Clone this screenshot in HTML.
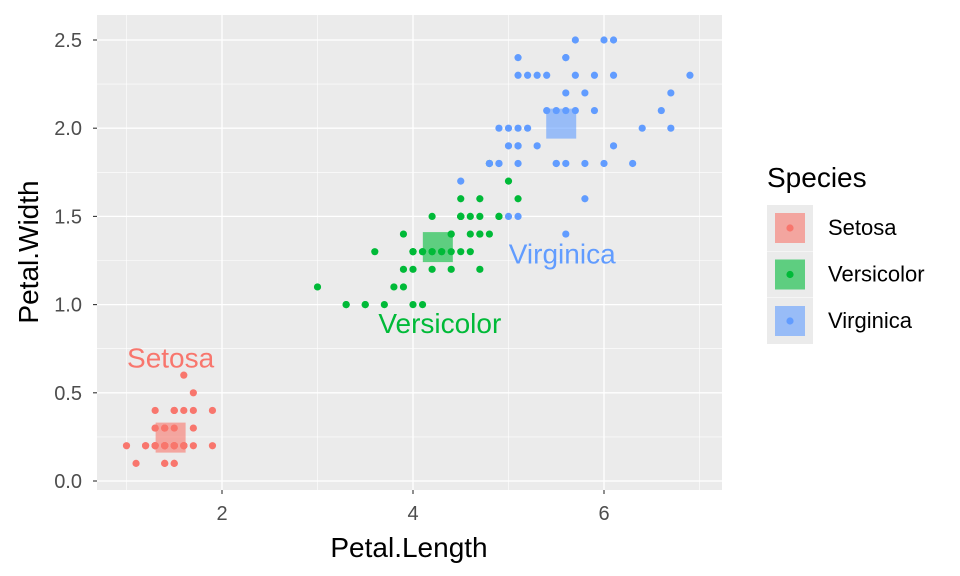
<!DOCTYPE html>
<html><head><meta charset="utf-8"><style>
body{margin:0;background:#fff;}
svg{display:block;font-family:"Liberation Sans",Arial,sans-serif;}
</style></head><body>
<svg id="chart" width="960" height="576" viewBox="0 0 960 576"></svg>
<script>
const species = ["Setosa","Versicolor","Virginica"];
const colors = ["#F8766D","#00BA38","#619CFF"];
const setosaLen = [1.4,1.4,1.3,1.5,1.4,1.7,1.4,1.5,1.4,1.5,1.5,1.6,1.4,1.1,1.2,1.5,1.3,1.4,1.7,1.5,1.7,1.5,1.0,1.7,1.9,1.6,1.6,1.5,1.4,1.6,1.6,1.5,1.5,1.4,1.5,1.2,1.3,1.4,1.3,1.5,1.3,1.3,1.3,1.6,1.9,1.4,1.6,1.4,1.5,1.4];
const setosaWid = [0.2,0.2,0.2,0.2,0.2,0.4,0.3,0.2,0.2,0.1,0.2,0.2,0.1,0.1,0.2,0.4,0.4,0.3,0.3,0.3,0.2,0.4,0.2,0.5,0.2,0.2,0.4,0.2,0.2,0.2,0.2,0.4,0.1,0.2,0.2,0.2,0.2,0.1,0.2,0.2,0.3,0.3,0.2,0.6,0.4,0.3,0.2,0.2,0.2,0.2];
const versiLen = [4.7,4.5,4.9,4.0,4.6,4.5,4.7,3.3,4.6,3.9,3.5,4.2,4.0,4.7,3.6,4.4,4.5,4.1,4.5,3.9,4.8,4.0,4.9,4.7,4.3,4.4,4.8,5.0,4.5,3.5,3.8,3.7,3.9,5.1,4.5,4.5,4.7,4.4,4.1,4.0,4.4,4.6,4.0,3.3,4.2,4.2,4.2,4.3,3.0,4.1];
const versiWid = [1.4,1.5,1.5,1.3,1.5,1.3,1.6,1.0,1.3,1.4,1.0,1.5,1.0,1.4,1.3,1.4,1.5,1.0,1.5,1.1,1.8,1.3,1.5,1.2,1.3,1.4,1.4,1.7,1.5,1.0,1.1,1.0,1.2,1.6,1.5,1.6,1.5,1.3,1.3,1.3,1.2,1.4,1.2,1.0,1.3,1.2,1.3,1.3,1.1,1.3];
const virgLen = [6.0,5.1,5.9,5.6,5.8,6.6,4.5,6.3,5.8,6.1,5.1,5.3,5.5,5.0,5.1,5.3,5.5,6.7,6.9,5.0,5.7,4.9,6.7,4.9,5.7,6.0,4.8,4.9,5.6,5.8,6.1,6.4,5.6,5.1,5.6,6.1,5.6,5.5,4.8,5.4,5.6,5.1,5.1,5.9,5.7,5.2,5.0,5.2,5.4,5.1];
const virgWid = [2.5,1.9,2.1,1.8,2.2,2.1,1.7,1.8,1.8,2.5,2.0,1.9,2.1,2.0,2.4,2.3,1.8,2.2,2.3,1.5,2.3,2.0,2.0,1.8,2.1,1.8,1.8,1.8,2.1,1.6,1.9,2.0,2.2,1.5,1.4,2.3,2.4,1.8,1.8,2.1,2.4,2.3,1.9,2.3,2.5,2.3,1.9,2.0,2.3,1.8];
const xTicks = [2,4,6];
const yTicks = [0,0.5,1,1.5,2,2.5];
const yTickLabels = ["0.0","0.5","1.0","1.5","2.0","2.5"];

const NS="http://www.w3.org/2000/svg";
const svg=document.getElementById('chart');
const P={l:97,r:722,t:15,b:490};
const xs=v=>31+v*95.5;
const ys=v=>481-v*176.4;
function mk(tag,attrs,parent){const e=document.createElementNS(NS,tag);for(const k in attrs)e.setAttribute(k,attrs[k]);(parent||svg).appendChild(e);return e;}

const bg=mk('rect',{x:P.l,y:P.t,width:P.r-P.l,height:P.b-P.t,fill:'#EBEBEB'});


[1,3,5,7].forEach(v=>{const l=mk('line',{x1:xs(v),x2:xs(v),y1:P.t,y2:P.b,stroke:'#fff','stroke-width':0.6});

});
[0.25,0.75,1.25,1.75,2.25].forEach(v=>{const l=mk('line',{x1:P.l,x2:P.r,y1:ys(v),y2:ys(v),stroke:'#fff','stroke-width':0.6});

});
xTicks.forEach(v=>{const l=mk('line',{x1:xs(v),x2:xs(v),y1:P.t,y2:P.b,stroke:'#fff','stroke-width':1.3});


mk('line',{x1:xs(v),x2:xs(v),y1:P.b,y2:P.b+4,stroke:'#333','stroke-width':1.1});
const t=mk('text',{x:xs(v),y:P.b+30,'text-anchor':'middle','font-size':20,fill:'#4D4D4D'});t.textContent=v;

});
yTicks.forEach((v,i)=>{const l=mk('line',{x1:P.l,x2:P.r,y1:ys(v),y2:ys(v),stroke:'#fff','stroke-width':1.3});


mk('line',{x1:P.l-4,x2:P.l,y1:ys(v),y2:ys(v),stroke:'#333','stroke-width':1.1});
const t=mk('text',{x:P.l-15,y:ys(v)+7,'text-anchor':'end','font-size':20,fill:'#4D4D4D'});t.textContent=yTickLabels[i];

});

const groups=[[setosaLen,setosaWid],[versiLen,versiWid],[virgLen,virgWid]];
groups.forEach((g,s)=>{g[0].forEach((x,i)=>{const c=mk('circle',{cx:xs(x),cy:ys(g[1][i]),r:3.6,fill:colors[s]});

});});
const labelOff=[[0,-70],[2,86],[1,140]];
groups.forEach((g,s)=>{const mx=g[0].reduce((a,b)=>a+b)/g[0].length,my=g[1].reduce((a,b)=>a+b)/g[1].length;
const r=mk('rect',{x:xs(mx)-15,y:ys(my)-15,width:30,height:30,fill:colors[s],'fill-opacity':0.6});


const t=mk('text',{x:xs(mx)+labelOff[s][0],y:ys(my)+labelOff[s][1],'text-anchor':'middle','font-size':28,fill:colors[s]});
t.textContent=species[s];

});

let t=mk('text',{x:409,y:557,'text-anchor':'middle','font-size':28,fill:'#000'});t.textContent='Petal.Length';


t=mk('text',{x:0,y:0,'text-anchor':'middle','font-size':28,fill:'#000',transform:'translate(38,252) rotate(-90)'});t.textContent='Petal.Width';


t=mk('text',{x:767,y:187,'font-size':28,fill:'#000'});t.textContent='Species';


species.forEach((s,i)=>{const cy=228+i*46.5;
const g=mk('g',{});


mk('rect',{x:767,y:cy-23,width:46,height:46,fill:'#EBEBEB'},g);
mk('rect',{x:775,y:cy-15,width:30,height:30,fill:colors[i],'fill-opacity':0.6},g);
mk('circle',{cx:790,cy:cy,r:3.6,fill:colors[i]},g);
const tt=mk('text',{x:828,y:cy+7,'font-size':22,fill:'#000'},g);tt.textContent=s;});
</script>
</body></html>
